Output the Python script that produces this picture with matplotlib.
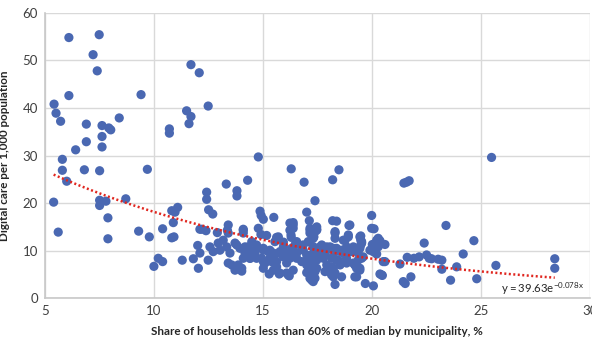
import numpy as np
import matplotlib
matplotlib.use("Agg")
import matplotlib.pyplot as plt

plt.rcParams['font.family'] = ['Lato', 'DejaVu Sans']

# share of low-income households (%) vs digital care per 1,000 population
share = [
    5.43, 5.52, 5.73, 6.11, 6.11, 7.50, 7.22, 7.41, 9.42, 6.91, 7.63, 7.94, 8.03, 8.42,
    7.63, 6.91, 7.63, 6.42, 5.81, 5.81, 6.82, 7.52, 9.71, 6.01, 5.41, 7.52, 7.52, 7.81,
    8.72, 7.90, 5.62, 7.90, 9.31, 9.80,
    10.72, 10.72, 11.51, 11.71, 11.62, 11.71, 12.09, 12.50,
    10.83, 11.10, 10.98, 10.90, 10.41, 10.83, 10.93, 12.02, 12.12, 10.21, 10.41, 10.01,
    11.31, 11.82, 12.05, 12.12,
    14.80, 16.31, 18.50, 13.33, 14.31, 16.90, 18.21, 12.43, 12.43, 13.82, 13.82, 17.40,
    12.52, 12.71, 14.88, 14.93, 15.03, 15.51, 17.02, 17.14, 16.40, 18.21, 18.39, 18.96,
    13.42, 13.38, 12.20, 12.40, 14.11, 14.92, 15.18, 15.64, 15.95, 16.31, 17.32, 17.48,
    18.32, 18.32, 18.70, 18.93, 12.92, 13.42, 14.11, 15.72, 15.56, 16.25, 16.40, 16.30,
    17.17, 17.35,
    12.58, 12.73, 12.50, 12.96, 13.19, 13.35, 13.04, 13.50, 13.42, 13.81, 14.04, 13.73,
    13.96, 14.19, 14.34, 14.50, 14.72, 14.65, 14.42, 15.03, 14.95, 15.11, 15.03, 15.33,
    15.56, 15.41, 15.64, 15.30, 15.76, 15.95, 16.10, 16.25, 16.10, 16.33, 16.48, 16.56,
    16.40, 16.10, 16.86, 17.02, 17.17, 17.09, 17.32, 17.55, 17.48, 17.40, 17.25, 17.71,
    17.94, 17.86,
    16.22, 18.32, 18.62, 17.94, 17.02, 17.40, 17.48, 17.17, 16.86, 17.32, 17.09, 17.17,
    17.48, 17.17, 17.32, 17.78, 17.86, 18.16, 18.32, 18.09, 18.39, 18.62, 18.85, 19.16,
    19.46, 19.54, 19.46, 19.38, 18.24, 18.47, 18.85, 19.16, 19.31, 19.54, 18.24, 19.23,
    19.00,
    25.50, 21.48, 21.60, 21.72, 20.00, 20.11, 20.30, 20.38, 20.61, 20.03, 19.92, 20.23,
    20.61, 20.38, 20.49, 20.08, 19.71, 19.31, 19.50, 19.50, 19.50, 19.00, 18.70, 18.39,
    19.61, 19.38, 19.23, 18.85, 18.39, 18.16, 19.46, 18.16, 18.32, 21.30, 21.45, 21.54,
    21.63, 21.94, 22.18, 22.52, 22.64, 22.75, 21.80, 22.41, 23.41, 23.22, 23.22, 23.90,
    23.62, 24.20, 24.69, 24.82, 25.70, 28.40, 28.40, 23.05, 20.23, 20.38,
    # dense middle band
    14.11, 14.80, 16.25, 16.40, 17.17, 17.48, 16.56, 16.79, 17.09, 17.32,
    13.81, 14.19, 14.42, 14.72, 15.03, 15.26, 15.49, 15.79, 15.95, 15.64, 15.33, 15.03,
    14.72, 14.42, 14.11, 13.88, 14.04, 15.49, 15.79, 16.17, 16.25, 16.56, 16.79, 17.02,
    17.25, 17.48, 17.71, 17.94, 17.17, 17.40, 13.58, 13.73,
    18.78, 18.93, 19.54, 17.63, 17.94, 18.24, 18.55, 18.85, 19.08, 18.24, 18.55, 18.85,
    19.23, 19.46, 18.16, 20.46, 20.00, 20.30, 20.07, 20.53,
]
care = [
    40.8, 38.9, 37.2, 54.8, 42.6, 55.4, 51.2, 47.8, 42.8, 36.6, 36.3, 35.8, 35.4, 37.9,
    34.0, 32.9, 31.8, 31.2, 29.2, 26.9, 27.0, 26.8, 27.1, 24.6, 20.2, 20.6, 19.5, 20.4,
    20.9, 16.9, 13.9, 12.5, 14.1, 12.9,
    35.6, 34.7, 39.4, 38.2, 36.7, 49.1, 47.4, 40.4,
    18.4, 19.1, 18.1, 15.9, 14.6, 12.7, 12.9, 11.1, 14.5, 8.4, 7.7, 6.7,
    8.0, 8.3, 6.3, 9.5,
    29.7, 27.2, 27.0, 24.0, 24.8, 24.4, 24.9, 22.3, 20.8, 22.6, 21.5, 20.5,
    18.6, 17.7, 18.3, 17.4, 16.6, 17.0, 18.1, 16.3, 15.9, 16.3, 16.2, 15.3,
    15.4, 14.3, 14.5, 14.2, 14.5, 13.4, 13.2, 12.8, 11.8, 12.8, 12.6, 14.5,
    14.0, 12.6, 12.2, 13.3, 13.8, 13.7, 13.7, 12.9, 11.9, 15.8, 14.7, 13.3,
    14.7, 12.9,
    10.8, 9.8, 8.0, 11.6, 12.2, 10.8, 10.1, 9.5, 7.4, 6.6, 5.7, 11.6,
    10.5, 9.5, 10.8, 11.9, 11.2, 9.5, 8.4, 10.1, 8.4, 7.4, 6.3, 10.1,
    9.1, 7.7, 6.6, 5.1, 5.1, 10.8, 9.5, 8.4, 7.4, 10.5, 11.2, 9.5,
    5.9, 5.3, 10.1, 9.1, 8.0, 6.6, 10.8, 10.1, 8.0, 5.6, 3.8, 11.2,
    10.5, 9.1,
    4.7, 2.9, 4.5, 7.0, 5.4, 14.0, 15.0, 13.7, 11.2, 9.5, 8.4, 7.0,
    6.3, 4.2, 3.5, 8.4, 5.6, 6.3, 13.7, 10.8, 10.5, 10.1, 10.8, 10.8,
    12.9, 11.6, 10.5, 9.5, 8.7, 8.0, 8.4, 7.4, 6.3, 8.4, 4.5, 4.5,
    15.4,
    29.6, 24.2, 24.4, 24.7, 17.4, 14.6, 12.6, 12.1, 11.3, 11.3, 10.1, 9.3,
    7.7, 5.1, 4.8, 2.6, 3.1, 4.5, 13.1, 12.2, 11.2, 10.1, 9.5, 10.1,
    8.7, 8.0, 7.0, 7.4, 8.0, 8.4, 5.9, 6.6, 5.3, 7.2, 3.5, 3.1,
    8.6, 8.4, 8.7, 9.1, 8.4, 8.3, 4.5, 11.6, 15.3, 8.0, 6.1, 6.6,
    3.8, 9.3, 12.1, 4.1, 6.9, 8.3, 6.3, 8.2, 12.2, 11.6,
    14.3, 14.7, 14.3, 15.4, 14.3, 14.3, 11.9, 10.8, 11.9, 10.8,
    11.2, 10.8, 9.8, 10.5, 10.5, 9.8, 9.5, 9.8, 8.7, 7.7, 8.4, 7.7,
    8.4, 8.4, 8.4, 7.0, 6.3, 5.9, 5.3, 4.9, 9.1, 8.4, 7.7, 7.0,
    7.7, 8.4, 9.5, 10.1, 5.3, 4.2, 7.0, 5.9,
    12.2, 12.9, 11.9, 10.8, 10.8, 10.5, 9.8, 10.5, 9.8, 6.3, 7.0, 7.7,
    7.0, 6.3, 4.9, 4.9, 14.7, 10.8, 9.8, 7.7,
]

# exponential trendline coefficients
trend_a = 39.63
trend_b = -0.078

fig = plt.figure(figsize=(5.92, 3.37), dpi=100)
ax = fig.add_axes([0.0755, 0.115, 0.9205, 0.847])

ax.scatter(share, care, s=44, color='#4a68b2', edgecolors='none', zorder=3)

tx = np.linspace(min(share), max(share), 200)
ax.plot(tx, trend_a * np.exp(trend_b * tx), color='#e0261f', lw=1.8,
        linestyle=(0, (0.8, 1.0)), zorder=4)

ax.text(25.95, 2.0, r'$\mathregular{y = 39.63e^{-0.078x}}$', fontsize=8.2,
        color='#262626', va='center', ha='left', zorder=5)

ax.set_xlim(5, 30)
ax.set_ylim(0, 60)
ax.set_xticks(range(5, 31, 5))
ax.set_yticks(range(0, 61, 10))
ax.grid(True, color='#d9d9d9', lw=1.0)
ax.set_axisbelow(True)
for side in ['top', 'right']:
    ax.spines[side].set_visible(False)
for side in ['left', 'bottom']:
    ax.spines[side].set_color('#c8c8c8')
    ax.spines[side].set_linewidth(1.2)
ax.tick_params(length=0, labelsize=9.5, labelcolor='#404040', pad=5)

ax.set_xlabel('Share of households less than 60% of median by municipality, %',
              fontsize=8.4, fontweight='bold', color='#262626', labelpad=6)
ax.set_ylabel('Digital care per 1,000 population', fontsize=8.4,
              fontweight='bold', color='#262626', labelpad=9)

fig.savefig('out.png', dpi=100)
